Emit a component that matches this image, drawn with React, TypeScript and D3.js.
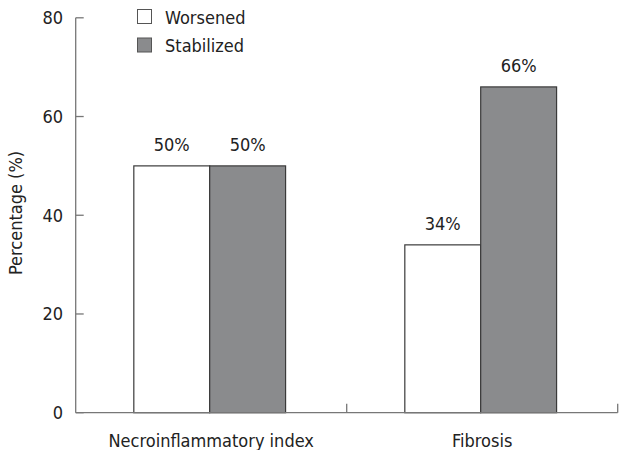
import React from 'react';
import * as d3 from 'd3';

const categories = ['Necroinflammatory index', 'Fibrosis'];
const seriesNames = ['Worsened', 'Stabilized'];
const worsened = [50, 34];
const stabilized = [50, 66];
const yTicks = [0, 20, 40, 60, 80];

const colors = ['#ffffff', '#8a8b8d'];
const font = '"DejaVu Sans Condensed", "DejaVu Sans", sans-serif';
const fs = 18;

const App = () => {
  const width = 628;
  const height = 450;

  const x = d3
    .scaleBand<string>()
    .domain(categories)
    .range([75.7, 617.7])
    .paddingInner(0.44)
    .paddingOuter(0.22);

  const xInner = d3.scaleBand<string>().domain(seriesNames).range([0, x.bandwidth()]);

  const y = d3.scaleLinear().domain([0, 80]).range([412.7, 17.8]);

  const values = [worsened, stabilized];
  const step = x.step();
  // boundaries between categories get an upward tick
  const xTickPos = categories.map((_, i) => x.range()[0] + step * (i + 1));

  return (
    <svg width={width} height={height} style={{ position: 'absolute', left: 0, top: 0 }} fontFamily={font}>
      <rect width={width} height={height} fill="#fff" />

      {categories.map((c, ci) =>
        seriesNames.map((s, si) => {
          const v = values[si][ci];
          const bx = (x(c) ?? 0) - 1.5 + (xInner(s) ?? 0);
          return (
            <g key={c + s}>
              <rect
                x={bx}
                y={y(v)}
                width={xInner.bandwidth()}
                height={y(0) - y(v)}
                fill={colors[si]}
                stroke="#3a3a3a"
                strokeWidth={1.2}
              />
              <text x={bx + xInner.bandwidth() / 2} y={y(v) - 15} textAnchor="middle" fontSize={fs} fill="#222">
                {v}%
              </text>
            </g>
          );
        })
      )}

      {/* y axis */}
      <line x1={x.range()[0]} x2={x.range()[0]} y1={y(80)} y2={y(0)} stroke="#777" strokeWidth={1.3} />
      {yTicks.map((t) => (
        <g key={t}>
          <line x1={x.range()[0]} x2={x.range()[0] + 8} y1={y(t)} y2={y(t)} stroke="#777" strokeWidth={1.3} />
          <text x={63} y={y(t)} dy="0.35em" textAnchor="end" fontSize={fs} fill="#222">
            {t}
          </text>
        </g>
      ))}

      {/* x axis */}
      <line x1={x.range()[0]} x2={x.range()[1]} y1={y(0)} y2={y(0)} stroke="#777" strokeWidth={1.3} />
      {xTickPos.map((p, i) => (
        <line key={i} x1={p} x2={p} y1={y(0)} y2={y(0) - 9} stroke="#777" strokeWidth={1.3} />
      ))}
      {categories.map((c) => (
        <text key={c} x={(x(c) ?? 0) + x.bandwidth() / 2} y={447} textAnchor="middle" fontSize={fs} fill="#222">
          {c}
        </text>
      ))}

      <text transform="translate(22,213) rotate(-90)" textAnchor="middle" fontSize={fs} fill="#222">
        Percentage (%)
      </text>

      {/* legend */}
      {seriesNames.map((s, i) => (
        <g key={s} transform={`translate(137,${9 + i * 28.5})`}>
          <rect x={0.5} y={0.5} width={14} height={14} fill={colors[i]} stroke="#555" strokeWidth={1} />
          <text x={28} y={14.5} fontSize={fs} fill="#222">
            {s}
          </text>
        </g>
      ))}
    </svg>
  );
};

export default App;
